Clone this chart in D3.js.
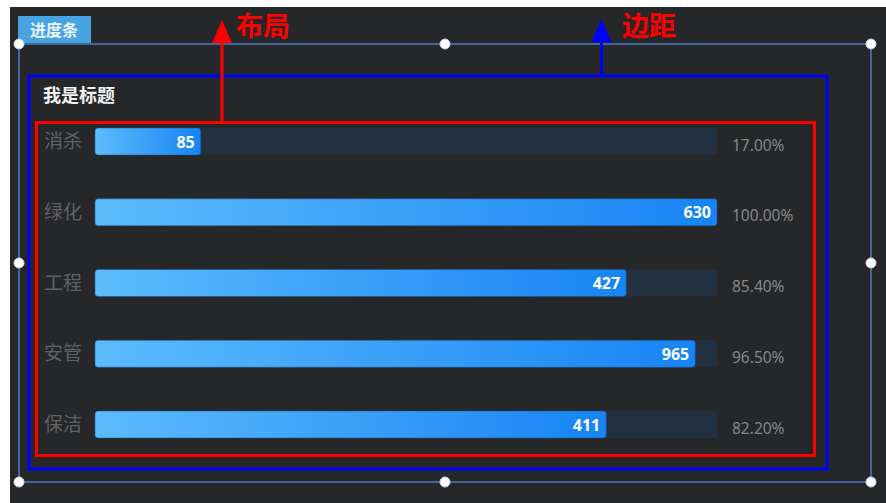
<!DOCTYPE html>
<html><head><meta charset="utf-8">
<script src="https://cdn.jsdelivr.net/npm/d3@7/dist/d3.min.js"></script>
<style>
html,body{margin:0;padding:0;background:#fff;}
svg{display:block;font-family:"Noto Sans CJK SC","Noto Sans",sans-serif;}
</style></head>
<body>
<svg id="c" width="886" height="503"></svg>
<script>
const categories = ["消杀","绿化","工程","安管","保洁"];
const values = [85, 630, 427, 965, 411];
const percents = [17.00, 100.00, 85.40, 96.50, 82.20];
const title = "我是标题";
const tagLabel = "进度条";
const layoutLabel = "布局";
const marginLabel = "边距";

const svg = d3.select("#c");
const defs = svg.append("defs");

// background
svg.append("rect").attr("x",10).attr("y",7).attr("width",876).attr("height",496).attr("fill","#262729");

// tag
svg.append("rect").attr("x",18).attr("y",16).attr("width",73).attr("height",27).attr("fill","#48a4e0");
svg.append("text").attr("x",54).attr("y",35.5).attr("text-anchor","middle")
  .attr("fill","#e8f4ff").attr("font-size",16).attr("font-weight","bold").text(tagLabel);

// selection frame
svg.append("rect").attr("x",19).attr("y",44).attr("width",852).attr("height",438)
  .attr("fill","none").attr("stroke","#3f679e").attr("stroke-width",2);
const hx=[19,445,871], hy=[44,263,482];
const handles=[];
hx.forEach(x=>hy.forEach(y=>{ if(!(x===445&&y===263)) handles.push([x,y]); }));
svg.selectAll("circle.h").data(handles).join("circle").attr("class","h")
  .attr("cx",d=>d[0]).attr("cy",d=>d[1]).attr("r",5).attr("fill","#ffffff").attr("stroke","#c8d8ec").attr("stroke-width",1);

// blue margin rect
svg.append("rect").attr("x",29).attr("y",76).attr("width",798).attr("height",393)
  .attr("fill","none").attr("stroke","#0000ff").attr("stroke-width",3);
// red layout rect
svg.append("rect").attr("x",36.5).attr("y",122.5).attr("width",778).attr("height",333)
  .attr("fill","none").attr("stroke","#ff0000").attr("stroke-width",3);

// arrows
function arrow(x, yTop, yBottom, color){
  svg.append("line").attr("x1",x).attr("x2",x).attr("y1",yTop+20).attr("y2",yBottom)
    .attr("stroke",color).attr("stroke-width",3);
  svg.append("path").attr("d",`M${x},${yTop} L${x+10},${yTop+23} L${x-10},${yTop+23} Z`).attr("fill",color);
}
arrow(222,20,122,"#ff0000");
arrow(601.5,19,76,"#0000ff");
svg.append("text").attr("x",236).attr("y",36).attr("fill","#ff0000").attr("font-size",27).attr("font-weight","bold").text(layoutLabel);
svg.append("text").attr("x",622).attr("y",36).attr("fill","#ff0000").attr("font-size",27).attr("font-weight","bold").text(marginLabel);

// title
svg.append("text").attr("x",43).attr("y",102).attr("fill","#f2f2f2").attr("font-size",18).attr("font-weight","bold").text(title);

// scales
const x = d3.scaleLinear().domain([0,100]).range([95,717]);
const y = d3.scalePoint().domain(categories).range([141.5,424.5]);
const bh = 27;

const data = categories.map((c,i)=>({c, v:values[i], p:percents[i]}));

// gradients per bar (gradient spans the filled part)
data.forEach((d,i)=>{
  const g = defs.append("linearGradient").attr("id","g"+i)
    .attr("gradientUnits","userSpaceOnUse")
    .attr("x1",x(0)).attr("x2",x(d.p)).attr("y1",0).attr("y2",0);
  g.append("stop").attr("offset","0%").attr("stop-color","#5cbcfd");
  g.append("stop").attr("offset","100%").attr("stop-color","#1784f4");
});

const rows = svg.selectAll("g.row").data(data).join("g").attr("class","row");

rows.append("rect").attr("x",x(0)).attr("y",d=>y(d.c)-bh/2).attr("width",x(100)-x(0)).attr("height",bh)
  .attr("rx",3).attr("fill","#22303f");

rows.append("rect").attr("x",x(0)).attr("y",d=>y(d.c)-bh/2).attr("width",d=>x(d.p)-x(0)).attr("height",bh)
  .attr("rx",3).attr("fill",(d,i)=>`url(#g${i})`)
  .attr("stroke","rgba(30,80,140,0.5)").attr("stroke-width",1);

rows.append("text").attr("x",44).attr("y",d=>y(d.c)+6.5)
  .attr("fill","#5f6165").attr("font-size",19).text(d=>d.c);

rows.append("text").attr("x",d=>x(d.p)-6).attr("y",d=>y(d.c)+6)
  .attr("text-anchor","end").attr("fill","#ffffff").attr("font-size",16).attr("font-weight","bold")
  .attr("font-family","'Noto Sans','Open Sans',sans-serif").text(d=>d.v);

rows.append("text").attr("x",732).attr("y",d=>y(d.c)+9)
  .attr("fill","#85878a").attr("font-size",15.5)
  .attr("font-family","'Noto Sans','Open Sans',sans-serif").text(d=>d.p.toFixed(2)+"%");
</script>
</body></html>
